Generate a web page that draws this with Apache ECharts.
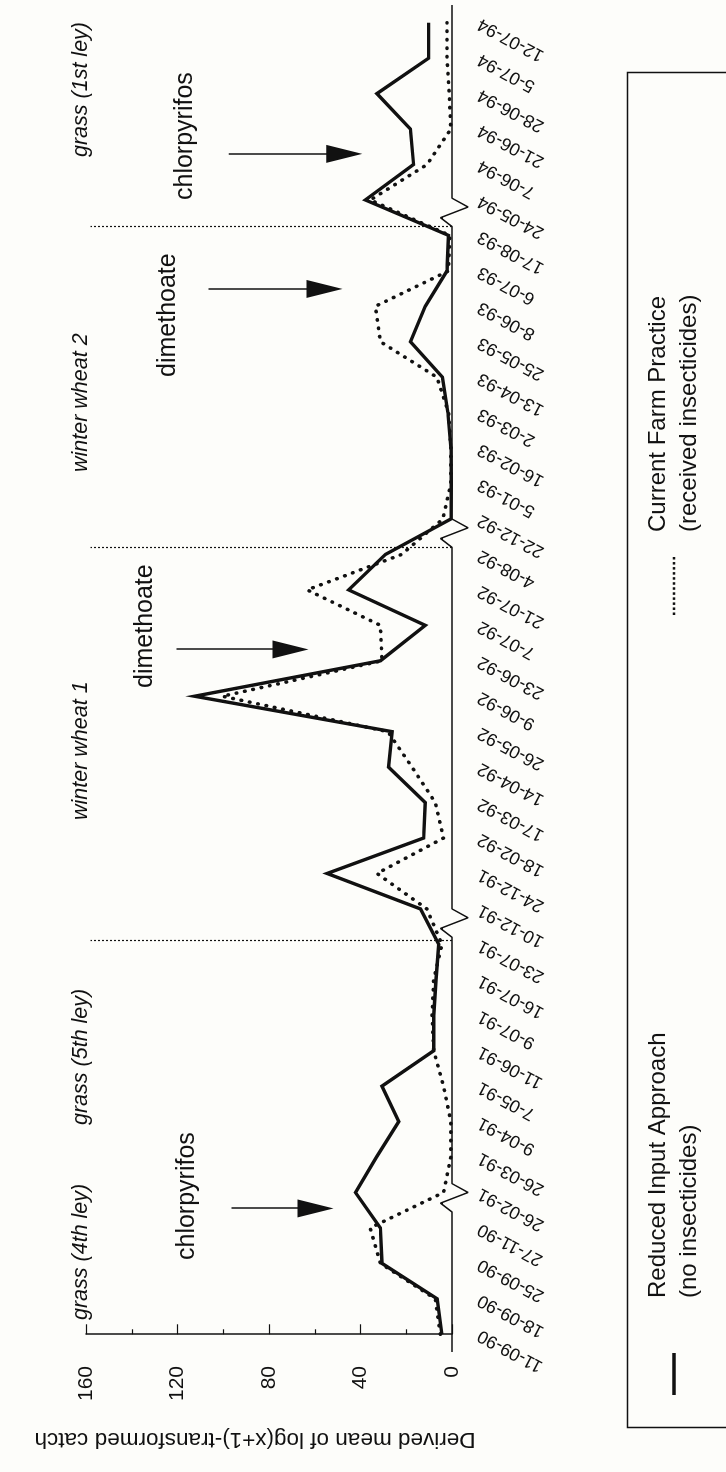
<!DOCTYPE html>
<html>
<head>
<meta charset="utf-8">
<script src="https://cdn.jsdelivr.net/npm/echarts@6/dist/echarts.min.js"></script>
<style>
  html, body { margin: 0; padding: 0; width: 726px; height: 1472px; overflow: hidden; background: #fdfdfa; }
  /* chart is laid out landscape and turned a quarter turn, like the scanned page */
  #main {
    position: absolute; left: 0; top: 0;
    width: 1472px; height: 726px;
    transform-origin: 0 0;
    transform: translateY(1472px) rotate(-90deg);
  }
</style>
</head>
<body>
<div id="main"></div>
<script>
const dates = [
  '11-09-90','18-09-90','25-09-90','27-11-90','26-02-91','26-03-91','9-04-91','7-05-91',
  '11-06-91','9-07-91','16-07-91','23-07-91','10-12-91','24-12-91','18-02-92','17-03-92',
  '14-04-92','26-05-92','9-06-92','23-06-92','7-07-92','21-07-92','4-08-92','22-12-92',
  '5-01-93','16-02-93','2-03-93','13-04-93','25-05-93','8-06-93','6-07-93','17-08-93',
  '24-05-94','7-06-94','21-06-94','28-06-94','5-07-94','12-07-94'
];
const reducedInput = [4.4, 6.5, 30.6, 31.3, 42.2, 33, 23.3, 30.6, 8.0, 8.0, 7.0, 5.8, 13.8, 54.6,
  12.4, 11.7, 27.7, 26.2, 112.5, 31.3, 11.7, 45.2, 29.1, 0.5, 0.3, 0.5, 1.8, 4.2, 18.2, 11.7,
  2.2, 1.5, 37.9, 16.8, 18.2, 32.8, 10.2, 10.2];
const farmPractice = [5.1, 7.3, 31.3, 35.8, 3.7, 0.5, 0.5, 3.7, 8.0, 8.7, 8.0, 4.4, 11, 32.8,
  3.7, 7.3, 17.5, 28, 100.4, 30.6, 31.3, 63.3, 22, 4, 0.5, 0.5, 1.5, 6.6, 31.3, 33.5,
  1.5, 1.0, 35.7, 10.9, 0.5, 1.2, 2.2, 2.2];
const yTicks = [0, 40, 80, 120, 160];

// gaps in the sampling (axis breaks) and crop boundaries, in category index units
const breakPos = [3.45, 11.2, 22.2, 31.25];
const cropBounds = [11.1, 22.2, 31.25];
const cropNames = ['grass (4th ley)', 'grass (5th ley)', 'winter wheat 1', 'winter wheat 2', 'grass (1st ley)'];
const sprays = ['chlorpyrifos', 'dimethoate', 'dimethoate', 'chlorpyrifos'];
// arrow: [index, value at tail, value at tip]
const arrows = [[3.55, 96.4, 51.8], [19.32, 120.4, 62.7], [29.49, 106.4, 47.9], [33.3, 97.6, 39.2]];

const FONT = "'Liberation Sans', Arial, sans-serif";
const ink = '#111';

// zero line with the little break zigzags
const baseline = [[-0.5, 0]];
breakPos.forEach(b => {
  baseline.push([b, 0], [b + 0.25, 5], [b + 0.55, -7], [b + 0.8, 0]);
});
baseline.push([37.5, 0]);

// legend swatch for the dotted series: a row of little squares
let dotPath = 'path://';
for (let k = 0; k < 12; k++) dotPath += 'M' + (k * 2) + ',0h1v1h-1z';

const pxPerUnit = 366 / 160;
const headLen = 36;

const chart = echarts.init(document.getElementById('main'));
chart.setOption({
  backgroundColor: '#fdfdfa',
  animation: false,
  grid: { left: 120, right: 5, top: 86, bottom: 274 },
  legend: [
    {
      data: ['Reduced Input Approach'], left: 72, top: 638, icon: 'rect',
      itemWidth: 42, itemHeight: 3.4,
      formatter: () => 'Reduced Input Approach\n(no insecticides)',
      textStyle: { fontFamily: FONT, fontSize: 24, lineHeight: 31, color: ink, padding: [0, 0, 0, 50] }
    },
    {
      data: ['Current Farm Practice'], left: 852, top: 638, icon: dotPath,
      itemWidth: 58, itemHeight: 3, itemStyle: { color: ink },
      formatter: () => 'Current Farm Practice\n(received insecticides)',
      textStyle: { fontFamily: FONT, fontSize: 24, lineHeight: 31, color: ink, padding: [0, 0, 0, 20] }
    }
  ],
  xAxis: [
    {
      type: 'category', data: dates, boundaryGap: true, position: 'bottom',
      axisLine: { show: false }, axisTick: { show: false },
      axisLabel: { interval: 0, rotate: 62, margin: 27, fontFamily: FONT, fontSize: 18, color: ink }
    },
    { type: 'value', min: -0.5, max: 37.5, show: false }
  ],
  yAxis: {
    type: 'value', min: 0, max: 160, interval: 40,
    name: 'Derived mean of log(x+1)-transformed catch',
    nameLocation: 'middle', nameGap: 76,
    nameTextStyle: { fontFamily: FONT, fontSize: 22.5, color: ink, padding: [0, 0, 0, 28] },
    axisLine: { show: true, lineStyle: { color: ink, width: 1.5 } },
    axisTick: { show: true, inside: true, length: 10, lineStyle: { color: ink, width: 1.2 } },
    minorTick: { show: true, splitNumber: 2, length: 5, lineStyle: { color: ink, width: 1.2 } },
    splitLine: { show: false },
    axisLabel: {
      margin: 14, fontFamily: FONT, fontSize: 21, color: ink,
      formatter: v => (yTicks.indexOf(v) >= 0 ? String(v) : '')
    }
  },
  graphic: [
    { type: 'rect', left: 42, top: 625, shape: { width: 1355, height: 200 },
      style: { fill: 'none', stroke: ink, lineWidth: 1.5 } },
    ...cropNames.map((t, k) => ({
      type: 'text', left: [152, 347, 652, 1000, 1315][k], top: 70,
      style: { text: t, font: 'italic 21.5px ' + FONT, fill: ink }
    })),
    ...sprays.map((t, k) => ({
      type: 'text', left: [212, 784, 1095, 1272][k], top: [175, 133, 156, 173][k],
      style: { text: t, font: '25px ' + FONT, fill: ink }
    }))
  ],
  series: [
    {
      name: 'Reduced Input Approach', type: 'line', data: reducedInput,
      symbol: 'none', z: 4,
      lineStyle: { color: ink, width: 3.4, join: 'miter' },
      itemStyle: { color: ink }
    },
    {
      name: 'Current Farm Practice', type: 'line', data: farmPractice,
      symbol: 'none', z: 3,
      lineStyle: { color: ink, width: 3.6, type: [0.5, 8], cap: 'round' },
      itemStyle: { color: ink }
    },
    {
      name: 'baseline', type: 'line', xAxisIndex: 1, data: baseline,
      symbol: 'none', clip: false, silent: true, z: 2,
      lineStyle: { color: ink, width: 1.5 },
      markLine: {
        silent: true, symbol: 'none', label: { show: false },
        lineStyle: { color: ink, width: 1.2, type: [2, 2] },
        data: cropBounds.map(b => [{ coord: [b, 0] }, { coord: [b, 158] }])
      }
    },
    {
      name: 'arrows', type: 'line', xAxisIndex: 1, data: [],
      silent: true,
      markLine: {
        silent: true, symbol: ['none', 'triangle'], symbolSize: [18, headLen],
        label: { show: false },
        lineStyle: { color: ink, width: 1.5, type: 'solid' },
        itemStyle: { color: ink },
        data: arrows.map(a => [{ coord: [a[0], a[1]] }, { coord: [a[0], a[2] + headLen / 2 / pxPerUnit] }])
      }
    }
  ]
});
</script>
</body>
</html>
